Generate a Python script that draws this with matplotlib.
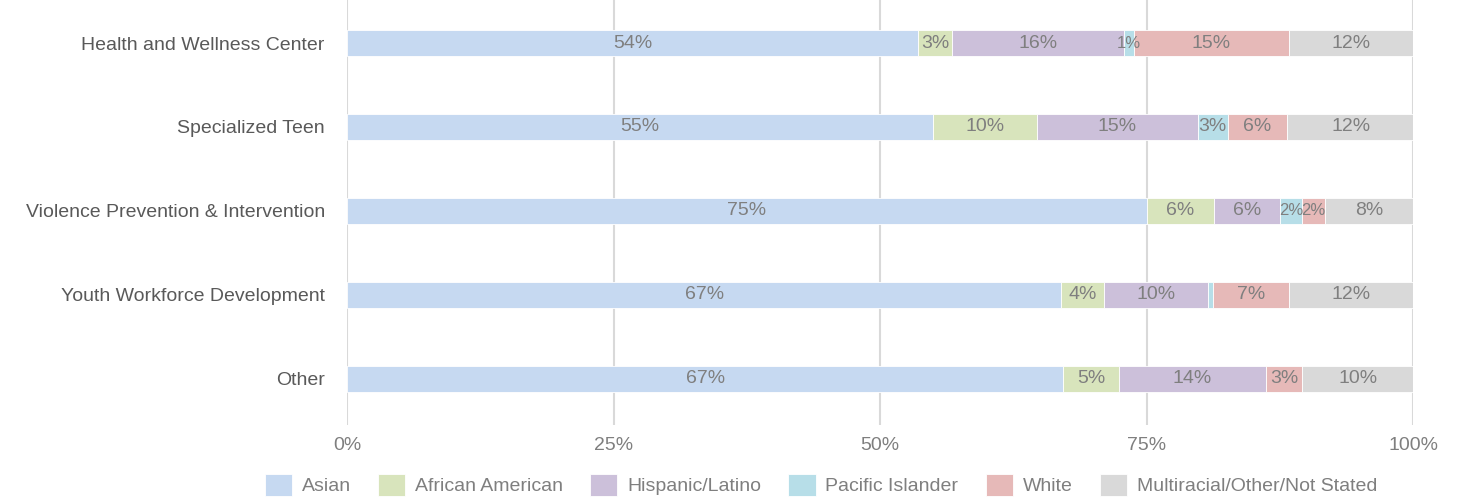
import matplotlib
matplotlib.use("Agg")
from matplotlib import pyplot as plt
import numpy as np

plt.rcParams["font.family"] = ["Liberation Sans Narrow", "Liberation Sans", "DejaVu Sans"]

programs = [
    "Health and Wellness Center",
    "Specialized Teen",
    "Violence Prevention & Intervention",
    "Youth Workforce Development",
    "Other",
]
groups = ["Asian", "African American", "Hispanic/Latino", "Pacific Islander",
          "White", "Multiracial/Other/Not Stated"]

asian = [53.6, 55.0, 75.0, 67.0, 67.2]
african_american = [3.2, 9.7, 6.3, 4.0, 5.2]
hispanic = [16.1, 15.1, 6.2, 9.8, 13.8]
pacific = [0.9, 2.8, 2.1, 0.4, 0.0]
white = [14.6, 5.6, 2.1, 7.2, 3.4]
multi = [11.6, 12.0, 8.3, 11.6, 10.4]

colors = ["#C6D9F1", "#D8E4BC", "#CCC0DA", "#B7DEE8", "#E6B9B8", "#D9D9D9"]
text_grey = "#7F7F7F"

series = [asian, african_american, hispanic, pacific, white, multi]

fig = plt.figure(figsize=(14.58, 5.01), dpi=100)
ax = fig.add_axes([347 / 1458, 1 - 425 / 501, 1066 / 1458, 425 / 501])

y = np.arange(len(programs))
left = np.zeros(len(programs))
for name, vals, col in zip(groups, series, colors):
    vals = np.array(vals)
    ax.barh(y, vals, left=left, height=0.31, color=col, label=name,
            edgecolor="white", linewidth=0.6, zorder=2)
    for yi, l, v in zip(y, left, vals):
        if round(v) >= 1:
            # narrow segments get a slightly smaller label so neighbours don't collide
            fs = 12 if v < 2.5 else 14
            ax.text(l + v / 2, yi, f"{v:.0f}%", ha="center", va="center",
                    fontsize=fs, color=text_grey, zorder=3)
    left += vals

ax.set_xlim(0, 100)
ax.set_ylim(4.548, -0.512)
ax.set_xticks([0, 25, 50, 75, 100])
ax.set_xticklabels(["0%", "25%", "50%", "75%", "100%"])
ax.set_yticks(y)
ax.set_yticklabels(programs)
ax.tick_params(axis="x", length=0, pad=9, labelsize=14, labelcolor=text_grey)
ax.tick_params(axis="y", length=0, pad=16, labelsize=14, labelcolor="#595959")
ax.grid(axis="x", color="#D9D9D9", linewidth=1.5, zorder=0)
ax.set_axisbelow(True)
for s in ax.spines.values():
    s.set_visible(False)

fig.legend(loc="center", bbox_to_anchor=(0.563, 1 - 485 / 501), ncol=6,
           frameon=False, fontsize=14, labelcolor=text_grey,
           handlelength=1.4, handleheight=1.4, handletextpad=0.5,
           columnspacing=1.4)

fig.savefig("out.png", dpi=100)
